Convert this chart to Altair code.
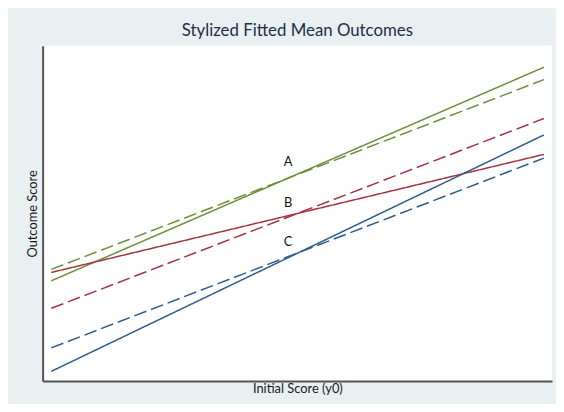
import altair as alt
import pandas as pd

# Data (x: initial score 0-100, y: outcome score 0-100)
series = ["A", "A", "B", "B", "C", "C"]
styles = ["solid", "dashed", "solid", "dashed", "solid", "dashed"]
x_start = [1.7, 1.7, 1.7, 1.7, 1.7, 1.7]
x_end = [98.4, 98.4, 98.4, 98.4, 98.4, 98.4]
y_start = [29.9, 33.3, 32.4, 21.7, 2.9, 9.9]
y_end = [93.6, 89.9, 67.6, 78.3, 73.4, 66.5]

label_text = ["A", "B", "C"]
label_x = [48.2, 48.2, 48.2]
label_y = [65.2, 53.1, 41.6]

colors = {"A": "#6b8e3a", "B": "#a3343f", "C": "#2c5b8c"}

rows = []
for i in range(len(series)):
    key = f"{series[i]}-{styles[i]}"
    rows.append({"key": key, "group": series[i], "style": styles[i], "x": x_start[i], "y": y_start[i]})
    rows.append({"key": key, "group": series[i], "style": styles[i], "x": x_end[i], "y": y_end[i]})
df = pd.DataFrame(rows)
labels = pd.DataFrame({"t": label_text, "x": label_x, "y": label_y})

xs = alt.Scale(domain=[0, 100], nice=False, zero=False)
ys = alt.Scale(domain=[0, 100], nice=False, zero=False)

lines = alt.Chart(df).mark_line(strokeWidth=1.5).encode(
    x=alt.X("x:Q", scale=xs, title="Initial Score (y0)",
            axis=alt.Axis(ticks=False, labels=False, grid=False, titlePadding=2)),
    y=alt.Y("y:Q", scale=ys, title="Outcome Score",
            axis=alt.Axis(ticks=False, labels=False, grid=False, titlePadding=3)),
    color=alt.Color("group:N", scale=alt.Scale(domain=list(colors.keys()), range=list(colors.values())), legend=None),
    strokeDash=alt.StrokeDash("style:N", scale=alt.Scale(domain=["solid", "dashed"], range=[[1, 0], [13, 5]]), legend=None),
    detail="key:N",
)

text = alt.Chart(labels).mark_text(fontSize=13, font="Lato", color="#111111").encode(
    x=alt.X("x:Q", scale=xs), y=alt.Y("y:Q", scale=ys), text="t:N"
)

chart = (lines + text).properties(
    width=515, height=339,
    background="#e9f0f2",
    padding={"left": 35, "top": 36, "right": 4, "bottom": 21},
    autosize=alt.AutoSizeParams(type="none"),
    title=alt.TitleParams("Stylized Fitted Mean Outcomes", anchor="middle", fontSize=17,
                          font="Lato", fontWeight="normal", color="#1f2d4d", offset=6),
).configure_view(fill="white", stroke=None).configure_axis(
    domainColor="#555555", domainWidth=2, titleFont="Lato", titleFontSize=13,
    titleFontWeight="normal", titleColor="#1a1a1a"
)

chart.save("out.html", embed_options={"renderer": "svg", "actions": False})
